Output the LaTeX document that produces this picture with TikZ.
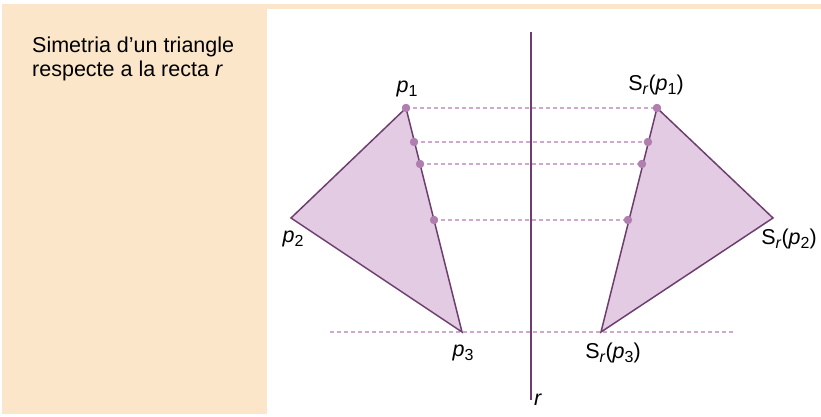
\documentclass[tikz,border=0pt]{standalone}
\usepackage{fontspec}
\setmainfont{Liberation Sans}
\usetikzlibrary{positioning}
\definecolor{paper}{HTML}{FBE6CA}
\definecolor{plum}{HTML}{6E3F6E}
\definecolor{lilac}{HTML}{E3CCE3}
\definecolor{guidec}{HTML}{CFA8CF}
\definecolor{dotc}{HTML}{B07FB0}
\tikzset{
  tri/.style={fill=lilac, draw=plum, line width=1.5pt, line join=miter},
  axis/.style={draw=plum, line width=1.5pt},
  guide/.style={draw=guidec, line width=1.6pt, dash pattern=on 4pt off 3pt},
  dotpt/.style={circle, fill=dotc, inner sep=0pt, minimum size=8pt},
  lab/.style={font=\fontsize{21.5}{24}\selectfont, inner sep=0pt},
}
\newcommand{\ix}[1]{\raisebox{-4pt}{\fontsize{16}{16}\selectfont #1}}

\begin{document}
\begin{tikzpicture}[x=1pt, y=-1pt]
    \useasboundingbox (0,0) rectangle (821,417);
    \fill[paper] (2,4) rectangle (267,414);
    \fill[paper] (267,4) rectangle (821,9);
    \node[lab, anchor=north west, align=left] (title) at (32,37) {Simetria d\symbol{39}un triangle\\respecte a la recta \textit{r}};

    % vertices
    \coordinate (p1) at (406,108);
    \coordinate (p2) at (291,218);
    \coordinate (p3) at (462,332);
    \coordinate (q1) at (657,108);
    \coordinate (q2) at (773,218);
    \coordinate (q3) at (601,332);
    \coordinate (rt) at (531,32);
    \coordinate (rb) at (531,400);
    \coordinate (gl) at (330,332);
    \coordinate (gr) at (734,332);

    % points on the side p1--p3 and their images
    \node[dotpt] (a1) at (p1) {};
    \node[dotpt] (a2) at (414,142) {};
    \node[dotpt] (a3) at (420,164) {};
    \node[dotpt] (a4) at (434,220) {};
    \node[dotpt] (b1) at (q1) {};
    \node[dotpt] (b2) at (648,142) {};
    \node[dotpt] (b3) at (642,164) {};
    \node[dotpt] (b4) at (628,220) {};

    \foreach \i in {1,...,4} { \draw[guide] (a\i.center) -- (b\i.center); }
    \draw[guide] (gl) -- (gr);
    \draw[axis] (rt) -- (rb);

    \draw[tri] (p1) -- (p2) -- (p3) -- cycle;
    \draw[tri] (q1) -- (q2) -- (q3) -- cycle;
    \foreach \n in {a1,a2,a3,a4,b1,b2,b3,b4} { \fill[dotc] (\n) circle (4.2pt); }

    \node[lab] (lp1) at (407,89) {\textit{p}\ix{1}};
    \node[lab] (lp2) at (293,239) {\textit{p}\ix{2}};
    \node[lab] (lp3) at (463,353) {\textit{p}\ix{3}};
    \node[lab] (lq1) at (656,85) {S\ix{\textit{r}}(\textit{p}\ix{1})};
    \node[lab] (lq2) at (789,239) {S\ix{\textit{r}}(\textit{p}\ix{2})};
    \node[lab] (lq3) at (613,353) {S\ix{\textit{r}}(\textit{p}\ix{3})};
    \node[lab, anchor=west] (lr) at ([xshift=3pt]rb) {\textit{r}};
\end{tikzpicture}
\end{document}
